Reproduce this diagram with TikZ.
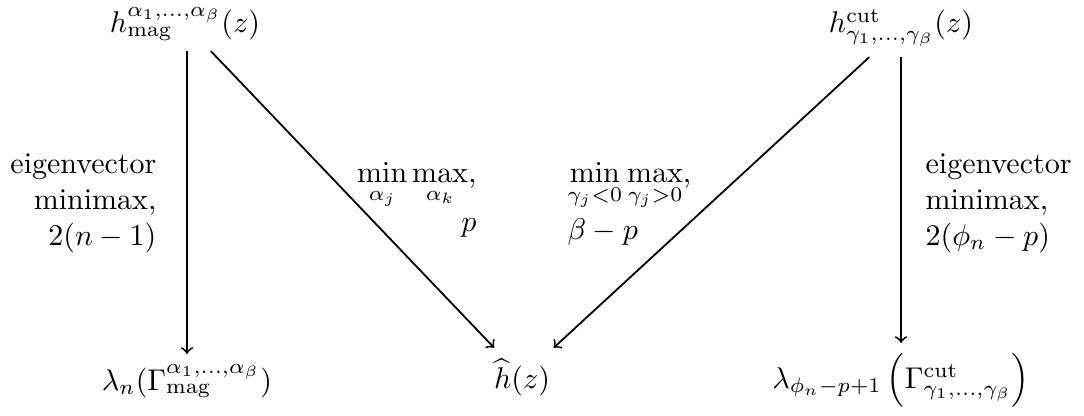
\documentclass[tikz,border=0pt]{standalone}
\usepackage{amsmath}
\begin{document}
\begin{tikzpicture}[x=0.3333pt,y=-0.3333pt,
  obj/.style={anchor=base},
  lbl/.style={inner sep=0pt},
  arr/.style={->,line width=0.6pt}]
\useasboundingbox (0,0) rectangle (1084,415);
\node[obj] (hmag) at (185,33) {$h_{\mathrm{mag}}^{\alpha_1,\dots,\alpha_\beta}(z)$};
\node[obj] (hcut) at (901,33) {$h^{\mathrm{cut}}_{\gamma_1,\dots,\gamma_\beta}(z)$};
\node[obj] (lamL) at (187,390) {$\lambda_n(\Gamma_{\mathrm{mag}}^{\alpha_1,\dots,\alpha_\beta})$};
\node[obj] (hhat) at (522,388) {$\widehat{h}(z)$};
\node[obj] (lamR) at (901,388) {$\lambda_{\phi_n-p+1}\left(\Gamma^{\mathrm{cut}}_{\gamma_1,\dots,\gamma_\beta}\right)$};
\draw[arr] (hmag.south -| lamL.north) -- (lamL.north);
\draw[arr] (hmag) -- (hhat);
\draw[arr] (hcut) -- (hhat);
\draw[arr] (hcut.south -| lamR.north) -- (lamR.north);
\node[lbl,align=right,anchor=north east] (l1) at (157,153) {eigenvector\\ minimax,\\ $2(n-1)$};
\node[lbl,align=right,anchor=north east] (l2) at (477,162) {$\min\limits_{\alpha_j}\max\limits_{\alpha_k}$,\\[2pt] $p$\hspace{3pt}};
\node[lbl,align=left,anchor=north west] (l3) at (567,162) {$\min\limits_{\gamma_j<0}\max\limits_{\gamma_j>0}$,\\[2pt] $\beta-p$};
\node[lbl,align=left,anchor=north west] (l4) at (925,153) {eigenvector\\ minimax,\\ $2(\phi_n-p)$};
\end{tikzpicture}
\end{document}
